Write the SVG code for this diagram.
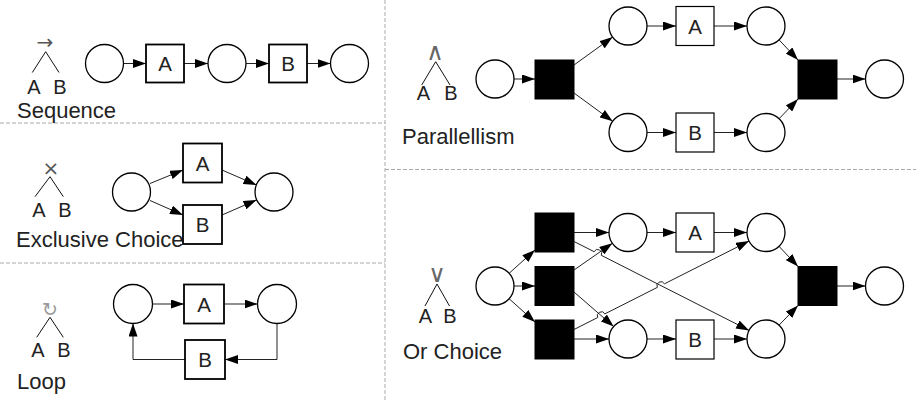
<svg xmlns="http://www.w3.org/2000/svg" width="916" height="401" viewBox="0 0 916 401">
<style>
text{font-family:"Liberation Sans",Arial,sans-serif;fill:#222}
.lbl{font-size:22px}
.bl{font-size:20.5px;text-anchor:middle}
.ab{font-size:20px;text-anchor:middle}
.op{font-family:"DejaVu Sans",sans-serif;text-anchor:middle;fill:#555}
.pl{fill:#fff;stroke:#000;stroke-width:1.3}
.tr{fill:#fff;stroke:#000;stroke-width:1.8}
.trt{fill:#fff;stroke:#000;stroke-width:1.2}
.bk{fill:#000;stroke:#000;stroke-width:1}
.leg{stroke:#111;stroke-width:1;fill:none}
.sep{stroke:#aaa;stroke-width:1;stroke-dasharray:4,2;fill:none}
.e{stroke:#222;stroke-width:1;fill:none;marker-end:url(#ah)}
</style>
<defs>
<marker id="ah" markerUnits="userSpaceOnUse" markerWidth="13" markerHeight="9" refX="13" refY="4.5" orient="auto" viewBox="0 0 13 9">
<path d="M0,0 L13,4.5 L0,9 z" fill="#000"/>
</marker>
</defs>
<rect width="916" height="401" fill="#fff"/>
<g id="separators">
<line class="sep" x1="385" y1="0" x2="385" y2="401"/>
<line class="sep" x1="0" y1="123" x2="385" y2="123"/>
<line class="sep" x1="0" y1="263" x2="385" y2="263"/>
<line class="sep" x1="385" y1="169.5" x2="916" y2="169.5"/>
</g>
<g id="legends">
<text class="op" x="45" y="49" style="font-size:20px">→</text>
<path class="leg" d="M32.3,72.5 L45.7,51.7 L59,72.5"/>
<text class="ab" x="34" y="93.5">A</text><text class="ab" x="60" y="93.5">B</text>
<text class="lbl" x="17" y="118">Sequence</text>
<text class="op" x="51" y="175" style="font-size:20px">×</text>
<path class="leg" d="M35,196.7 L50,176.7 L63.3,196.7"/>
<text class="ab" x="39" y="216.5">A</text><text class="ab" x="65" y="216.5">B</text>
<text class="lbl" x="16" y="247">Exclusive Choice</text>
<text class="op" x="50" y="315.5" style="font-size:19px;fill:#999">↻</text>
<path class="leg" d="M36.7,337.3 L50,317.3 L63.3,337.3"/>
<text class="ab" x="38" y="357">A</text><text class="ab" x="64" y="357">B</text>
<text class="lbl" x="17" y="389">Loop</text>
<text class="op" x="435" y="60" style="font-size:24px;fill:#666">∧</text>
<path class="leg" d="M421.7,85 L435.7,61.7 L450,85"/>
<text class="ab" x="423.5" y="100">A</text><text class="ab" x="451" y="100">B</text>
<text class="lbl" x="402" y="144">Parallellism</text>
<text class="op" x="437" y="282" style="font-size:24px;fill:#666">∨</text>
<path class="leg" d="M425,306 L437,284 L449.5,306"/>
<text class="ab" x="425.5" y="323">A</text><text class="ab" x="450" y="323">B</text>
<text class="lbl" x="403" y="359">Or Choice</text>
</g>
<g id="connectors">
<line class="e" x1="123.5" y1="63.5" x2="146" y2="63.5"/>
<line class="e" x1="184" y1="63.5" x2="208" y2="63.5"/>
<line class="e" x1="246" y1="63.5" x2="269" y2="63.5"/>
<line class="e" x1="307" y1="63.5" x2="330.5" y2="63.5"/>
<line class="e" x1="150" y1="183.5" x2="183" y2="170"/>
<line class="e" x1="150" y1="200.5" x2="183" y2="215"/>
<line class="e" x1="222" y1="170" x2="256.5" y2="185"/>
<line class="e" x1="222" y1="215" x2="256.5" y2="200"/>
<line class="e" x1="152.5" y1="304" x2="184" y2="304"/>
<line class="e" x1="224" y1="304" x2="257.5" y2="304"/>
<path class="e" d="M277,323.5 L277,359.5 L225,359.5"/>
<path class="e" d="M185,359.5 L133,359.5 L133,323.5"/>
<line class="e" x1="514" y1="79" x2="535" y2="79"/>
<line class="e" x1="574" y1="65" x2="612.6" y2="37.1"/>
<line class="e" x1="574" y1="93" x2="612.7" y2="121.3"/>
<line class="e" x1="647" y1="26" x2="676" y2="26"/>
<line class="e" x1="714" y1="26" x2="747" y2="26"/>
<line class="e" x1="647" y1="132.5" x2="676" y2="132.5"/>
<line class="e" x1="714" y1="132.5" x2="747" y2="132.5"/>
<line class="e" x1="779" y1="39.8" x2="798" y2="60"/>
<line class="e" x1="779" y1="118.8" x2="798" y2="99"/>
<line class="e" x1="837" y1="79" x2="865.5" y2="79"/>
<line class="e" x1="509.1" y1="273.3" x2="535" y2="250"/>
<line class="e" x1="514" y1="286" x2="535" y2="286"/>
<line class="e" x1="509.1" y1="298.7" x2="535" y2="322"/>
<line class="e" x1="574" y1="232.5" x2="609" y2="232.5"/>
<path class="e" d="M574,241.5 L594.13,251.69 A4,4 0 0 1 601.27,255.31 L749.1,330.4"/>
<line class="e" x1="574" y1="270" x2="612.4" y2="243.3"/>
<line class="e" x1="574" y1="292" x2="613.7" y2="326.5"/>
<path class="e" d="M574,329.5 L597.73,317.5 A4,4 0 0 1 604.87,313.9 L657.33,287.4 A4,4 0 0 1 664.47,283.8 L749,241.1"/>
<line class="e" x1="574" y1="339" x2="609" y2="339"/>
<line class="e" x1="647" y1="232.5" x2="676" y2="232.5"/>
<line class="e" x1="714" y1="232.5" x2="747" y2="232.5"/>
<line class="e" x1="647" y1="339" x2="676" y2="339"/>
<line class="e" x1="714" y1="339" x2="747" y2="339"/>
<line class="e" x1="779" y1="246.3" x2="798" y2="266.5"/>
<line class="e" x1="779" y1="325.2" x2="798" y2="305.5"/>
<line class="e" x1="837" y1="286" x2="865.5" y2="286"/>
</g>
<g id="sequence">
<circle id="seq-p1" class="pl" cx="104.5" cy="63.5" r="19"/>
<g id="seq-A"><rect class="tr" x="146" y="44.5" width="38" height="38"/><text class="bl" x="165" y="71">A</text></g>
<circle id="seq-p2" class="pl" cx="227" cy="63.5" r="19"/>
<g id="seq-B"><rect class="tr" x="269" y="44.5" width="38" height="38"/><text class="bl" x="288" y="71">B</text></g>
<circle id="seq-p3" class="pl" cx="349.5" cy="63.5" r="19"/>
</g>
<g id="exclusive">
<circle id="xor-p1" class="pl" cx="131.5" cy="192" r="19"/>
<g id="xor-A"><rect class="tr" x="183" y="143.5" width="39" height="39"/><text class="bl" x="202.5" y="170.5">A</text></g>
<g id="xor-B"><rect class="tr" x="183" y="205" width="39" height="39"/><text class="bl" x="202.5" y="232">B</text></g>
<circle id="xor-p2" class="pl" cx="274" cy="192" r="19"/>
</g>
<g id="loop">
<circle id="loop-p1" class="pl" cx="133" cy="304" r="19.5"/>
<g id="loop-A"><rect class="tr" x="184" y="284.5" width="40" height="39"/><text class="bl" x="204" y="311.5">A</text></g>
<circle id="loop-p2" class="pl" cx="277" cy="304" r="19.5"/>
<g id="loop-B"><rect class="tr" x="185" y="340" width="40" height="39"/><text class="bl" x="205" y="367">B</text></g>
</g>
<g id="parallelism">
<circle id="and-start" class="pl" cx="495" cy="79" r="19"/>
<rect id="and-split" class="bk" x="535" y="60" width="39" height="39"/>
<circle id="and-p1" class="pl" cx="628" cy="26" r="19"/>
<g id="and-A"><rect class="trt" x="676" y="6.5" width="38" height="39"/><text class="bl" x="695" y="33.5">A</text></g>
<circle id="and-p2" class="pl" cx="766" cy="26" r="19"/>
<circle id="and-p3" class="pl" cx="628" cy="132.5" r="19"/>
<g id="and-B"><rect class="trt" x="676" y="113" width="38" height="39"/><text class="bl" x="695" y="140">B</text></g>
<circle id="and-p4" class="pl" cx="766" cy="132.5" r="19"/>
<rect id="and-join" class="bk" x="798" y="60" width="39" height="39"/>
<circle id="and-end" class="pl" cx="884.5" cy="79" r="19"/>
</g>
<g id="orchoice">
<circle id="or-start" class="pl" cx="495" cy="286" r="19"/>
<rect id="or-t1" class="bk" x="535" y="213" width="39" height="39"/>
<rect id="or-t2" class="bk" x="535" y="266.5" width="39" height="39"/>
<rect id="or-t3" class="bk" x="535" y="320" width="39" height="39"/>
<circle id="or-p1" class="pl" cx="628" cy="232.5" r="19"/>
<g id="or-A"><rect class="trt" x="676" y="213" width="38" height="39"/><text class="bl" x="695" y="240">A</text></g>
<circle id="or-p2" class="pl" cx="766" cy="232.5" r="19"/>
<circle id="or-p3" class="pl" cx="628" cy="339" r="19"/>
<g id="or-B"><rect class="trt" x="676" y="320" width="38" height="39"/><text class="bl" x="695" y="347">B</text></g>
<circle id="or-p4" class="pl" cx="766" cy="339" r="19"/>
<rect id="or-join" class="bk" x="798" y="266.5" width="39" height="39"/>
<circle id="or-end" class="pl" cx="884.5" cy="286" r="19"/>
</g>
</svg>
